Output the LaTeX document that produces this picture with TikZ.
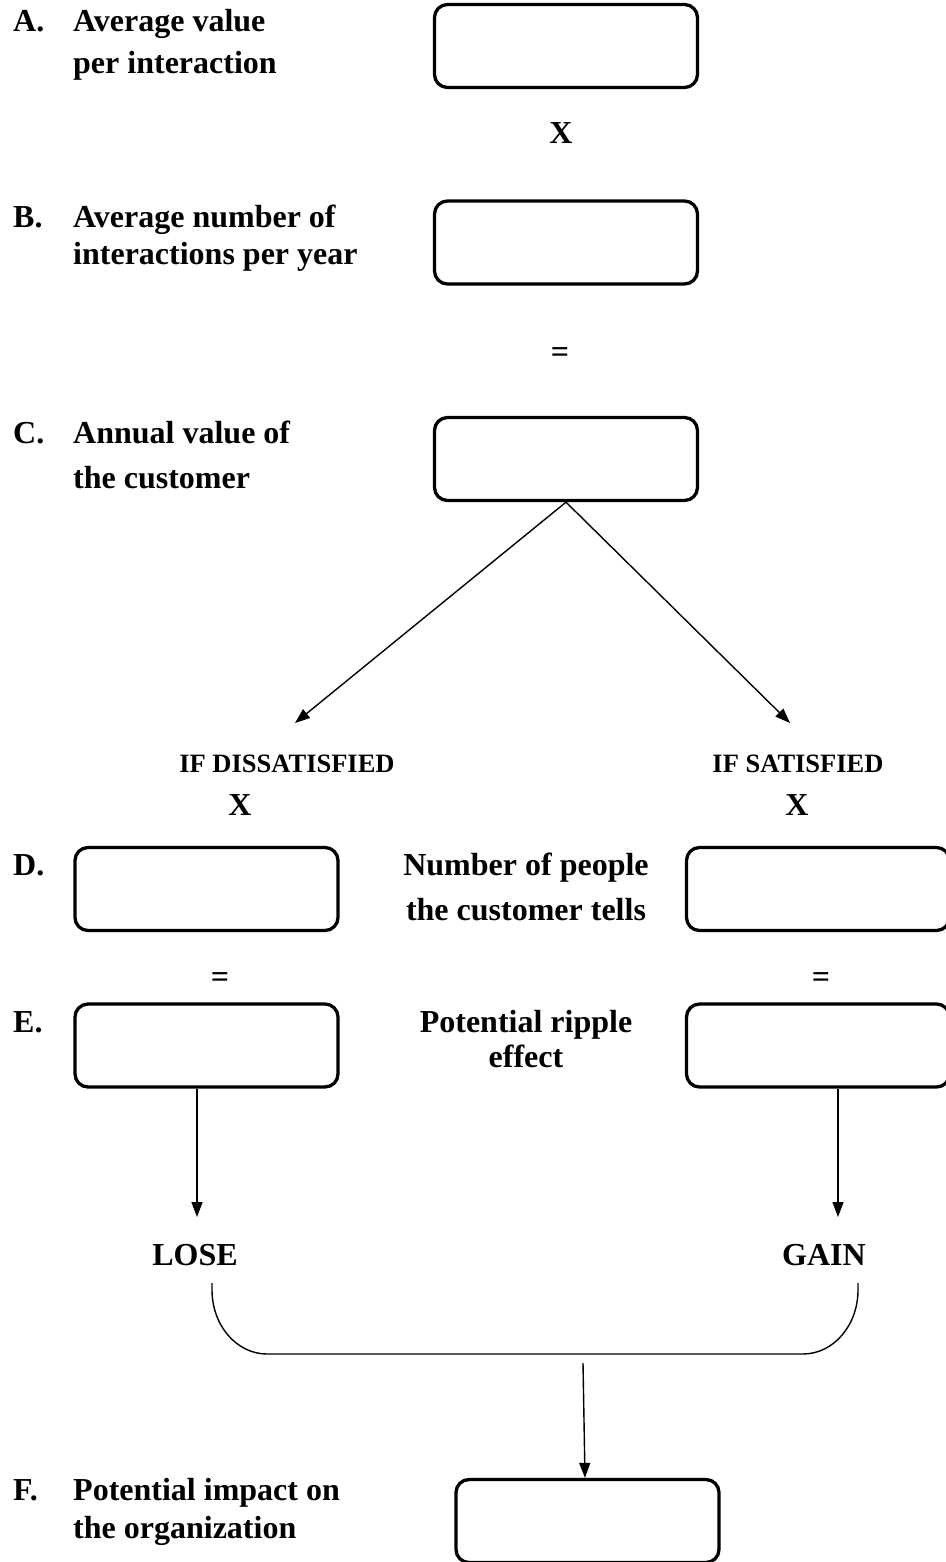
\documentclass[tikz,border=0pt]{standalone}
\usepackage{fontspec}
\setmainfont{Liberation Serif}
\usetikzlibrary{arrows.meta}
\tikzset{
  valbox/.style={draw, line width=3.3pt, rounded corners=13pt, minimum width=263pt, minimum height=83pt, inner sep=0pt},
  lbl/.style={inner sep=0pt, font=\fontsize{32}{38}\selectfont\bfseries},
  small/.style={inner sep=0pt, font=\fontsize{26.5}{32}\selectfont\bfseries},
  conn/.style={line width=1.4pt, -{Triangle[length=15pt,width=11pt]}},
  plain/.style={line width=1.4pt}
}
\begin{document}
\begin{tikzpicture}[x=1pt,y=-1pt]
\useasboundingbox (0,0) rectangle (945,1562);
% boxes
\node[valbox] (A) at (566,46) {};
\node[valbox] (B) at (566,242.5) {};
\node[valbox] (C) at (566,459) {};
\node[valbox] (DL) at (206.5,889) {};
\node[valbox] (DR) at (818,889) {};
\node[valbox] (EL) at (206.5,1045.5) {};
\node[valbox] (ER) at (818,1045.5) {};
\node[valbox] (F) at (587.5,1521) {};
% left labels
\node[lbl, anchor=base west] (Al) at (13,32) {A.};
\node[lbl, anchor=base west] (A1) at (73,32) {Average value};
\node[lbl, anchor=base west] (A2) at (73,74) {per interaction};
\node[lbl, anchor=base] (x1) at (561,144) {X};
\node[lbl, anchor=base west] (Bl) at (13,228) {B.};
\node[lbl, anchor=base west] (B1) at (73,228) {Average number of};
\node[lbl, anchor=base west] (B2) at (73,265) {interactions per year};
\node[lbl] (eq1) at (560,355) {=};
\node[lbl, anchor=base west] (Cl) at (13,443) {C.};
\node[lbl, anchor=base west] (C1) at (73,443) {Annual value of};
\node[lbl, anchor=base west] (C2) at (73,488) {the customer};
% branches
\coordinate (tipL) at (295,723);
\coordinate (tipR) at (790,723);
\draw[conn] (C.south) -- (tipL);
\draw[conn] (C.south) -- (tipR);
\node[small, anchor=base] (ifd) at (287,772) {IF DISSATISFIED};
\node[small, anchor=base] (ifs) at (798,772) {IF SATISFIED};
\node[lbl, anchor=base] (xL) at (240,815) {X};
\node[lbl, anchor=base] (xR) at (797,815) {X};
\node[lbl, anchor=base west] (Dl) at (13,875) {D.};
\node[lbl, anchor=base] (D1) at (526,875) {Number of people};
\node[lbl, anchor=base] (D2) at (526,920) {the customer tells};
\node[lbl] (eqL) at (220,980) {=};
\node[lbl] (eqR) at (821,980) {=};
\node[lbl, anchor=base west] (El) at (13,1032) {E.};
\node[lbl, anchor=base] (E1) at (526,1032) {Potential ripple};
\node[lbl, anchor=base] (E2) at (526,1067) {effect};
% lose / gain
\coordinate (loseTip) at (197,1217);
\coordinate (gainTip) at (838,1217);
\draw[conn] (EL.south -| loseTip) -- (loseTip);
\draw[conn] (ER.south -| gainTip) -- (gainTip);
\node[lbl, anchor=base] (lose) at (195,1265) {LOSE};
\node[lbl, anchor=base] (gain) at (824,1265) {GAIN};
% bracket
\coordinate (bl) at (212,1283);
\coordinate (br) at (858,1283);
\draw[plain] (bl) -- (212,1290) arc[start angle=180, end angle=270, x radius=55, y radius=-64] -- (803,1354) arc[start angle=270, end angle=360, x radius=55, y radius=-64] -- (br);
\coordinate (bm) at (583,1363);
\draw[conn] (bm) -- (F.north -| 585,0);
\node[lbl, anchor=base west] (Fl) at (13,1500) {F.};
\node[lbl, anchor=base west] (F1) at (73,1500) {Potential impact on};
\node[lbl, anchor=base west] (F2) at (73,1538) {the organization};
\end{tikzpicture}
\end{document}
